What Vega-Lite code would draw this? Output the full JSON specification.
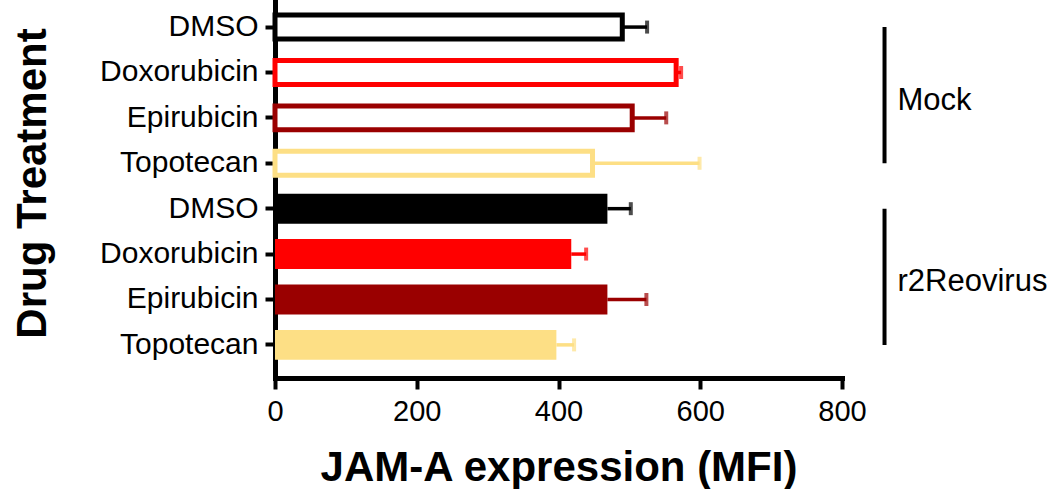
{
  "$schema": "https://vega.github.io/schema/vega-lite/v6.json",
  "autosize": "none",
  "padding": {"left": 275, "top": 0, "right": 208, "bottom": 111},
  "width": 567,
  "height": 378,
  "background": "white",
  "config": {
    "view": {"stroke": null},
    "font": "Liberation Sans",
    "axis": {"grid": false, "labelFont": "Liberation Sans", "titleFont": "Liberation Sans", "labelColor": "black", "titleColor": "black", "domainColor": "black", "tickColor": "black", "domainCap": "square"}
  },
  "datasets": {
    "bars": [
      {"id": "Mock|DMSO", "drug": "DMSO", "group": "Mock", "mean": 490, "upper": 525},
      {"id": "Mock|Doxorubicin", "drug": "Doxorubicin", "group": "Mock", "mean": 566, "upper": 573},
      {"id": "Mock|Epirubicin", "drug": "Epirubicin", "group": "Mock", "mean": 504, "upper": 552},
      {"id": "Mock|Topotecan", "drug": "Topotecan", "group": "Mock", "mean": 448, "upper": 599},
      {"id": "Reo|DMSO", "drug": "DMSO", "group": "r2Reovirus", "mean": 469, "upper": 502},
      {"id": "Reo|Doxorubicin", "drug": "Doxorubicin", "group": "r2Reovirus", "mean": 418, "upper": 439},
      {"id": "Reo|Epirubicin", "drug": "Epirubicin", "group": "r2Reovirus", "mean": 469, "upper": 524},
      {"id": "Reo|Topotecan", "drug": "Topotecan", "group": "r2Reovirus", "mean": 397, "upper": 422}
    ],
    "groups": [
      {"group": "Mock", "start": "Mock|DMSO", "end": "Mock|Topotecan", "mid": "Mock|Epirubicin"},
      {"group": "r2Reovirus", "start": "Reo|DMSO", "end": "Reo|Topotecan", "mid": "Reo|Epirubicin"}
    ]
  },
  "layer": [
    {
      "data": {"name": "bars"},
      "transform": [{"filter": "datum.group === 'r2Reovirus'"}],
      "mark": {"type": "bar"},
      "encoding": {
        "y": {
          "field": "id", "type": "nominal",
          "scale": {"domain": ["Mock|DMSO", "Mock|Doxorubicin", "Mock|Epirubicin", "Mock|Topotecan", "Reo|DMSO", "Reo|Doxorubicin", "Reo|Epirubicin", "Reo|Topotecan"], "paddingInner": 0.34, "paddingOuter": 0.333, "align": 0.4},
          "axis": {
            "title": "Drug Treatment",
            "labelExpr": "split(datum.value, '|')[1]",
            "labelFontSize": 30,
            "labelPadding": 7,
            "domainWidth": 5,
            "tickWidth": 4,
            "tickSize": 10,
            "titleFontSize": 42,
            "titleFontWeight": "bold",
            "titleAngle": 270,
            "titleBaseline": "alphabetic",
            "titleAlign": "center",
            "titleX": -230,
            "titleY": 183
          }
        },
        "x": {
          "field": "mean", "type": "quantitative",
          "scale": {"domain": [0, 800], "nice": false},
          "axis": {
            "title": "JAM-A expression (MFI)",
            "values": [0, 200, 400, 600, 800],
            "labelFlush": false,
            "labelFontSize": 29,
            "labelPadding": 8,
            "domainWidth": 5,
            "tickWidth": 4,
            "tickSize": 11,
            "titleFontSize": 42,
            "titleFontWeight": "bold",
            "titleBaseline": "alphabetic",
            "titleY": 102
          }
        },
        "color": {
          "field": "drug", "type": "nominal",
          "scale": {"domain": ["DMSO", "Doxorubicin", "Epirubicin", "Topotecan"], "range": ["#000000", "#FF0000", "#9A0000", "#FDDF85"]},
          "legend": null
        }
      }
    },
    {
      "data": {"name": "bars"},
      "transform": [{"filter": "datum.group === 'Mock'"}],
      "mark": {"type": "bar", "fill": "white", "strokeWidth": 5, "height": {"band": 0.8}},
      "encoding": {
        "y": {"field": "id", "type": "nominal"},
        "x": {"field": "mean", "type": "quantitative"},
        "stroke": {"field": "drug", "type": "nominal", "scale": {"domain": ["DMSO", "Doxorubicin", "Epirubicin", "Topotecan"], "range": ["#000000", "#FF0000", "#9A0000", "#FDDF85"]}, "legend": null}
      }
    },
    {
      "data": {"name": "bars"},
      "mark": {"type": "rule", "strokeWidth": 3.5},
      "encoding": {
        "y": {"field": "id", "type": "nominal"},
        "x": {"field": "mean", "type": "quantitative"},
        "x2": {"field": "upper"},
        "color": {"field": "drug", "type": "nominal", "legend": null}
      }
    },
    {
      "data": {"name": "bars"},
      "mark": {"type": "tick", "thickness": 4, "size": 13, "orient": "vertical"},
      "encoding": {
        "y": {"field": "id", "type": "nominal"},
        "x": {"field": "upper", "type": "quantitative"},
        "color": {"field": "drug", "type": "nominal", "legend": null}
      }
    },
    {
      "data": {"name": "groups"},
      "mark": {"type": "rule", "strokeWidth": 4, "color": "black"},
      "encoding": {
        "x": {"datum": 860, "type": "quantitative"},
        "y": {"field": "start", "type": "nominal"},
        "y2": {"field": "end"}
      }
    },
    {
      "data": {"name": "groups"},
      "mark": {"type": "text", "align": "left", "baseline": "middle", "dx": 13, "dy": -2, "fontSize": 31, "font": "Liberation Sans", "color": "black"},
      "encoding": {
        "x": {"datum": 860, "type": "quantitative"},
        "y": {"field": "mid", "type": "nominal", "bandPosition": 0},
        "text": {"field": "group", "type": "nominal"}
      }
    }
  ]
}
